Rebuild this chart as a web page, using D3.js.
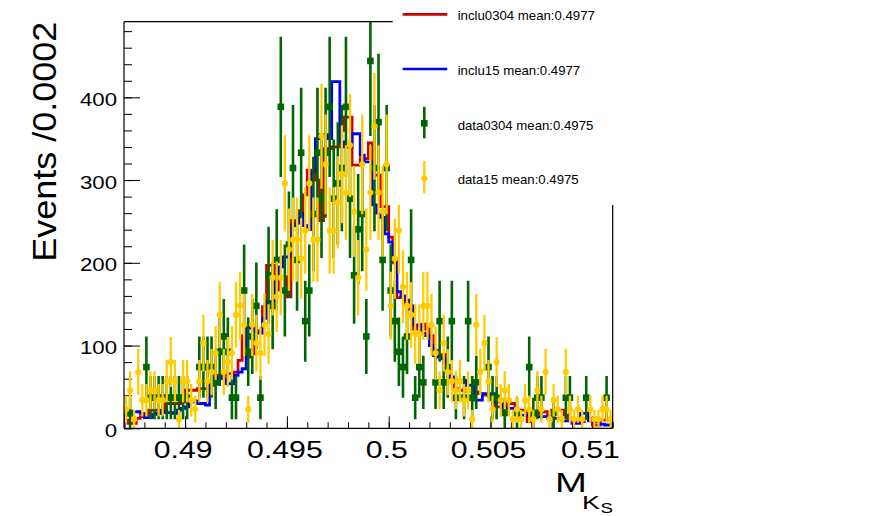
<!DOCTYPE html>
<html><head><meta charset="utf-8">
<script src="https://cdn.jsdelivr.net/npm/d3@7"></script>
<style>body{margin:0;background:#fff}svg{display:block}text{font-family:"Liberation Sans",Arial,Helvetica,sans-serif;fill:#000}</style>
</head><body><svg id="c" width="879" height="516"></svg>
<script>
// ---------------- data ----------------
const xMin = 0.487, xMax = 0.511, binWidth = 0.0002, yMax = 491.4;
const inclu0304 = [10,6,6,12,14,16,22,22,22,22, 30,30,30,30,32,46,46,46,48,48,
  48,52,64,64,64,66,66,68,82,112, 86,90,118,118,147,197,197,167,183,183,
  159,251,251,263,282,312,312,300,251,338, 338,340,340,360,376,376,318,318,326,326,
  345,306,306,268,268,231,200,158,158,151, 144,120,124,126,120,112,94,89,89,75,
  58,48,46,46,45,45,44,42,40,40, 40,26,26,26,30,30,22,22,22,8,
  18,18,20,20,12,22,22,22,16,12, 8,8,8,12,12,4,4,10,10,10];
const inclu15 = [16,16,20,20,18,13,13,17,18,20, 19,19,18,22,24,26,32,33,30,30,
  28,58,60,62,60,54,54,64,68,72, 122,121,115,115,133,153,153,181,195,207,
  207,245,248,260,245,240,310,350,355,355, 350,419,419,346,340,340,356,356,330,322,
  322,270,260,255,235,225,205,165,160,155, 148,125,124,115,112,100,88,86,84,76,
  62,58,58,58,52,52,34,34,42,42, 42,32,32,24,24,24,22,16,16,16,
  16,14,14,14,14,12,12,12,9,9, 6,6,18,18,9,8,8,5,4,4];
const data0304 = [0,18.5,0,0,0,74,37,37,37,37, 37,37,37,37,37,37,0,0,74,74,
  74,74,55.5,92.5,111,92.5,37,37,0,166.5, 92.5,111,148,37,0,185,148,203.5,388.5,166.5,
  222,314.5,203.5,333,129.5,166.5,259,333,277.5,333, 388.5,277.5,296,314.5,388.5,277.5,185,240.5,259,111,
  444,314.5,370,203.5,314.5,166.5,129.5,92.5,74,111, 203.5,37,74,55.5,0,0,55.5,129.5,55.5,74,
  129.5,37,0,37,129.5,37,55.5,0,0,74, 37,37,0,18.5,0,0,18.5,0,0,74,
  18.5,37,37,0,0,18.5,0,0,37,37, 0,0,0,37,0,0,0,0,37,0];
const data15 = [23,46,11,68,34,34,46,46,34,34, 57,80,57,11,57,57,34,23,57,103,
  57,68,91,137,68,80,91,137,148,125, 23,125,103,91,125,114,182,159,182,296,
  216,228,228,205,239,296,228,228,353,319, 239,239,273,307,285,342,262,182,319,216,
  285,365,285,262,319,148,205,239,171,148, 137,114,114,148,148,125,91,46,103,68,
  57,46,57,34,46,11,125,68,103,57, 23,80,34,46,34,11,23,11,34,23,
  11,46,23,68,11,34,23,11,68,23, 11,23,11,0,23,11,11,23,23,11];
// per-event weights of the two data samples (error = sqrt(value*weight))
const weight0304 = 18.5, weight15 = 11.4;
const xTickValues = [0.49, 0.495, 0.5, 0.505, 0.51];
const xTickLabels = ["0.49", "0.495", "0.5", "0.505", "0.51"];
const yTickValues = [0, 100, 200, 300, 400];
const yTickLabels = ["0", "100", "200", "300", "400"];
const legendLabels = ["inclu0304 mean:0.4977", "inclu15 mean:0.4977", "data0304 mean:0.4975", "data15 mean:0.4975"];
const colors = {red:"#cc0000", blue:"#0000ff", green:"#006600", yellow:"#ffcc00"};

// ---------------- layout ----------------
const svg = d3.select("#c");
const F = {l:124, r:612.7, t:21.7, b:428.3};
const x = d3.scaleLinear().domain([xMin, xMax]).range([F.l, F.r]);
const y = d3.scaleLinear().domain([0, yMax]).range([F.b, F.t]);
const lo = i => xMin + i*binWidth, hi = i => xMin + (i+1)*binWidth, mid = i => xMin + (i+0.5)*binWidth;

svg.append("defs").append("clipPath").attr("id","clip").append("rect")
  .attr("x",F.l).attr("y",F.t).attr("width",F.r-F.l).attr("height",F.b-F.t);

// ticks (inward, ROOT style)
const xMinor = d3.range(0, 25).map(k => +(0.487 + k*0.001).toFixed(4));
const yMinor = d3.range(0, 25).map(k => k*20);
function clean(g){ g.select(".domain").remove(); g.selectAll("line").attr("stroke","#000"); }
svg.append("g").attr("transform",`translate(0,${F.b})`)
  .call(d3.axisBottom(x).tickValues(xMinor).tickSize(-6).tickSizeOuter(0).tickFormat("")).call(clean);
svg.append("g").attr("transform",`translate(0,${F.b})`)
  .call(d3.axisBottom(x).tickValues(xTickValues).tickSize(-12).tickSizeOuter(0).tickFormat("")).call(clean);
svg.append("g").attr("transform",`translate(${F.l},0)`)
  .call(d3.axisLeft(y).tickValues(yMinor).tickSize(-8).tickSizeOuter(0).tickFormat("")).call(clean);
svg.append("g").attr("transform",`translate(${F.l},0)`)
  .call(d3.axisLeft(y).tickValues(yTickValues).tickSize(-16).tickSizeOuter(0).tickFormat("")).call(clean);

// histograms
const plot = svg.append("g").attr("clip-path","url(#clip)");
function stepPts(vals){
  const p = [[x(lo(0)), y(0)]];
  vals.forEach((v,i) => { p.push([x(lo(i)), y(v)]); p.push([x(hi(i)), y(v)]); });
  p.push([x(hi(vals.length-1)), y(0)]);
  return p;
}
const line = d3.line();
[[inclu0304, colors.red], [inclu15, colors.blue]].forEach(([vals, c]) => {
  plot.append("path").attr("d", line(stepPts(vals))).attr("fill","none")
    .attr("stroke", c).attr("stroke-width", 2.8).attr("stroke-linejoin","miter");
});

// data points with error bars
function drawData(vals, w, c, shape, lw){
  const g = plot.append("g");
  vals.forEach((v,i) => {
    if (v <= 0) return;
    const e = Math.sqrt(v*w);
    g.append("line").attr("x1", x(mid(i))).attr("x2", x(mid(i)))
      .attr("y1", y(Math.max(0, v-e))).attr("y2", y(v+e)).attr("stroke", c).attr("stroke-width", lw);
    g.append("line").attr("x1", x(lo(i))).attr("x2", x(hi(i)))
      .attr("y1", y(v)).attr("y2", y(v)).attr("stroke", c).attr("stroke-width", lw);
    if (shape === "square")
      g.append("rect").attr("x", x(mid(i))-3.3).attr("y", y(v)-3.3).attr("width",6.6).attr("height",6.6).attr("fill", c);
    else
      g.append("circle").attr("cx", x(mid(i))).attr("cy", y(v)).attr("r", 3.1).attr("fill", c);
  });
}
drawData(data0304, weight0304, colors.green, "square", 2.6);
drawData(data15, weight15, colors.yellow, "circle", 2.3);

// frame
const fr = svg.append("g").attr("stroke","#000").attr("stroke-width",1.2).attr("fill","none");
fr.append("line").attr("x1",F.l).attr("x2",F.l).attr("y1",F.t).attr("y2",F.b);
fr.append("line").attr("x1",F.l).attr("x2",F.r).attr("y1",F.b).attr("y2",F.b);
fr.append("line").attr("x1",F.l).attr("x2",F.r).attr("y1",F.t).attr("y2",F.t);
fr.append("line").attr("x1",F.r).attr("x2",F.r).attr("y1",F.t).attr("y2",F.b);

// tick labels
xTickValues.forEach((t,k) => {
  svg.append("text").attr("transform",`translate(${x(t)-2},457.7) scale(1.26,1)`)
    .attr("text-anchor","middle").attr("font-size",24).text(xTickLabels[k]);
});
yTickValues.forEach((t,k) => {
  svg.append("text").attr("transform",`translate(117,${y(t)+8.5}) scale(1.2,1)`)
    .attr("text-anchor","end").attr("font-size",18.5).text(yTickLabels[k]);
});

// axis titles
svg.append("text").attr("transform","translate(56,21.7) rotate(-90)").attr("text-anchor","end")
  .attr("font-size",34).attr("textLength",240).attr("lengthAdjust","spacingAndGlyphs").text("Events /0.0002");
svg.append("text").attr("transform","translate(555,491.7) scale(1.42,1)").attr("font-size",27).text("M");
svg.append("text").attr("transform","translate(582,508.5) scale(1.45,1)").attr("font-size",18.6).text("K");
svg.append("text").attr("transform","translate(600.5,513.2) scale(1.25,1)").attr("font-size",15).text("S");

// legend (white box covering frame corner)
const lg = svg.append("g");
lg.append("rect").attr("x",392.7).attr("y",0).attr("width",300).attr("height",205).attr("fill","#fff");
const legY = [14.3, 69, 123.3, 178.3];
const legBase = [20.3, 75, 129.7, 184.3];
lg.append("line").attr("x1",402.7).attr("x2",447.3).attr("y1",legY[0]).attr("y2",legY[0]).attr("stroke",colors.red).attr("stroke-width",2.7);
lg.append("line").attr("x1",402.7).attr("x2",447.3).attr("y1",legY[1]).attr("y2",legY[1]).attr("stroke",colors.blue).attr("stroke-width",2.7);
lg.append("line").attr("x1",424.3).attr("x2",424.3).attr("y1",legY[2]-16.5).attr("y2",legY[2]+15).attr("stroke",colors.green).attr("stroke-width",2.6);
lg.append("rect").attr("x",424.3-3.3).attr("y",legY[2]-3.3).attr("width",6.6).attr("height",6.6).attr("fill",colors.green);
lg.append("line").attr("x1",424.3).attr("x2",424.3).attr("y1",legY[3]-17.5).attr("y2",legY[3]+15).attr("stroke",colors.yellow).attr("stroke-width",2.3);
lg.append("circle").attr("cx",424.3).attr("cy",legY[3]).attr("r",3.1).attr("fill",colors.yellow);
legendLabels.forEach((s,k) => {
  lg.append("text").attr("x",457.7).attr("y",legBase[k]).attr("font-size",13.2).attr("fill","#111").text(s);
});
</script></body></html>
